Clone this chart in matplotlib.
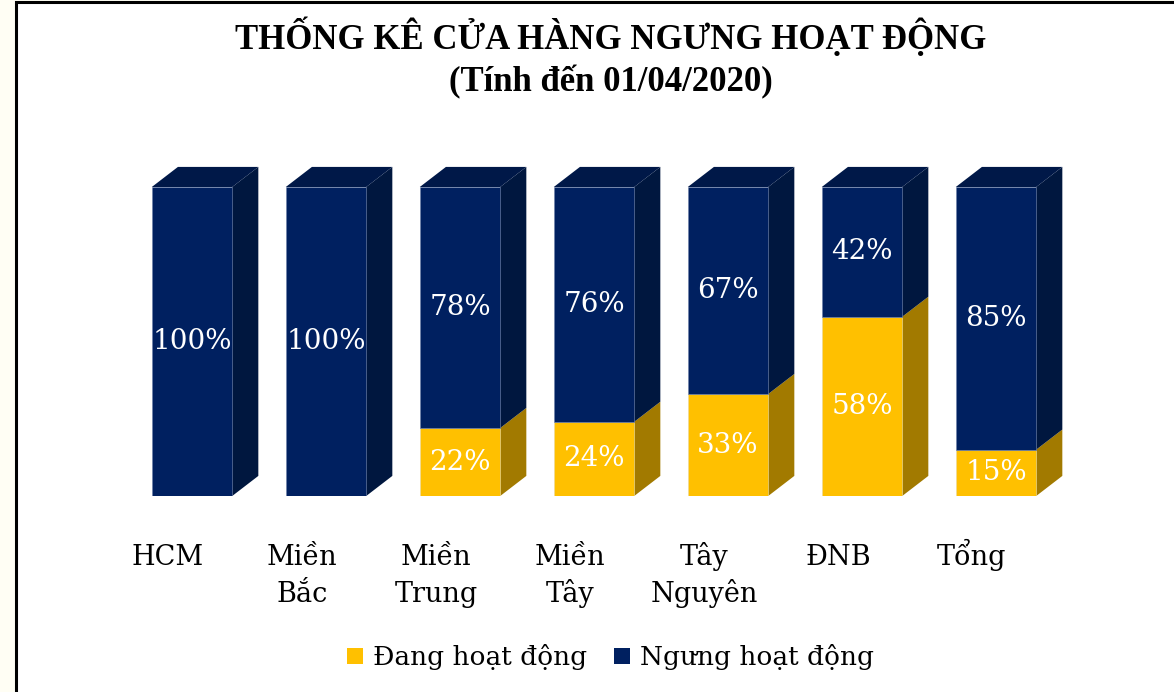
import numpy as np
import matplotlib.pyplot as plt
from matplotlib.patches import Polygon, Patch, Rectangle

# Dữ liệu
khu_vuc = ["HCM", "Miền\nBắc", "Miền\nTrung", "Miền\nTây", "Tây\nNguyên", "ĐNB", "Tổng"]
dang_hd = np.array([0, 0, 22, 24, 33, 58, 15])
ngung_hd = np.array([100, 100, 78, 76, 67, 42, 85])

vang, vang_side = "#FFC000", "#A27A00"
xanh, xanh_side, xanh_top = "#002060", "#00173F", "#001848"

plt.rcParams['font.family'] = ['DejaVu Serif']

fig = plt.figure(figsize=(11.74, 6.92), dpi=100)
fig.patch.set_facecolor("#FFFEF4")
# khung trắng viền đen
fig.patches.append(Rectangle((16 / 1174, -0.1), 1.2, 1.1 - 1.5 / 692, transform=fig.transFigure,
                             facecolor="white", edgecolor="black", linewidth=2.2, zorder=-1))

ax = fig.add_axes([125 / 1174, 196 / 692, 938 / 1174, 309 / 692])
ax.set_zorder(2)
ax.set_xlim(-0.5, 6.5)
ax.set_ylim(0, 100)
ax.axis("off")

x = np.arange(len(khu_vuc))
w = 0.6
dx, dy = 0.195, 6.5

ax.bar(x, dang_hd, width=w, color=vang, edgecolor="#E8D9A0", linewidth=0.4, zorder=3)
ax.bar(x, ngung_hd, width=w, bottom=dang_hd, color=xanh, edgecolor="#6C7FA8", linewidth=0.4, zorder=3)

for i in x:
    segs = [(0, dang_hd[i], vang_side), (dang_hd[i], dang_hd[i] + ngung_hd[i], xanh_side)]
    for b, t, c in segs:
        if t - b <= 0:
            continue
        r = i + w / 2
        ax.add_patch(Polygon([(r, b), (r + dx, b + dy), (r + dx, t + dy), (r, t)],
                             closed=True, facecolor=c, edgecolor="none", clip_on=False, zorder=2))
    top = dang_hd[i] + ngung_hd[i]
    ax.add_patch(Polygon([(i - w / 2, top), (i - w / 2 + dx, top + dy), (i + w / 2 + dx, top + dy),
                          (i + w / 2, top)], closed=True, facecolor=xanh_top, edgecolor="none",
                         clip_on=False, zorder=2))
    # nhãn dữ liệu
    if dang_hd[i] > 0:
        ax.text(i, dang_hd[i] / 2, f"{dang_hd[i]}%", ha="center", va="center",
                color="white", fontsize=20, zorder=5)
    ax.text(i, dang_hd[i] + ngung_hd[i] / 2, f"{ngung_hd[i]}%", ha="center", va="center",
            color="white", fontsize=20, zorder=5)
    # nhãn trục, từng dòng theo baseline
    for k, dong in enumerate(khu_vuc[i].split("\n")):
        ax.annotate(dong, xy=(i - 0.18, -0.223), xycoords=("data", "axes fraction"),
                    xytext=(0, -26.6 * k), textcoords="offset points",
                    ha="center", va="baseline", fontsize=19.5)

fig.text(0.52, 0.975, "THỐNG KÊ CỬA HÀNG NGƯNG HOẠT ĐỘNG\n(Tính đến 01/04/2020)",
         ha="center", va="top", fontsize=25, fontweight="bold", linespacing=1.32,
         family=["Liberation Serif", "DejaVu Serif"])

handles = [Patch(facecolor=vang, label="Đang hoạt động"), Patch(facecolor=xanh, label="Ngưng hoạt động")]
fig.legend(handles=handles, loc="center", bbox_to_anchor=(0.52, 0.05), ncol=2, frameon=False,
           fontsize=19, handlelength=0.6, handleheight=0.6, handletextpad=0.4, columnspacing=1.0)

plt.savefig("out.png", dpi=100)
